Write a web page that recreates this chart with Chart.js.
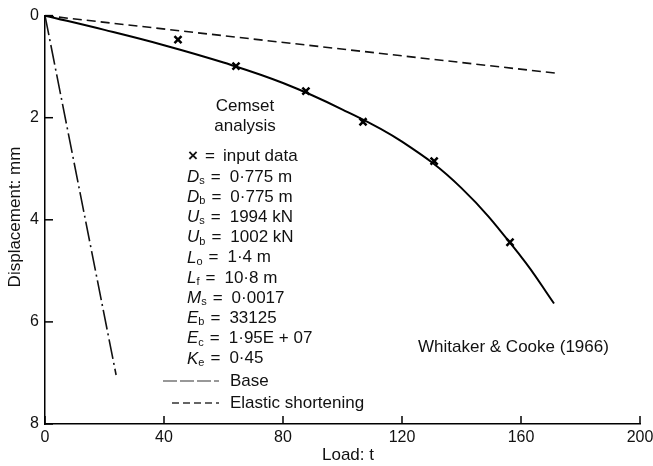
<!DOCTYPE html>
<html>
<head>
<meta charset="utf-8">
<script src="https://cdn.jsdelivr.net/npm/chart.js@4"></script>
<style>
  html, body { margin: 0; padding: 0; background: #fff; }
  canvas { display: block; }
</style>
</head>
<body>
<canvas id="chart" width="653" height="466"></canvas>
<script>
// axis ticks
const loadTicks = [0, 40, 80, 120, 160, 200];
const dispTicks = [0, 2, 4, 6, 8];

// input data (crosses)
const inputLoad = [44.7, 64.2, 87.7, 106.9, 130.8, 156.3];
const inputDisp = [0.47, 0.99, 1.48, 2.08, 2.85, 4.44];

// Cemset fitted curve
const cemsetLoad = [0, 20, 40, 60, 80, 100, 120, 140, 160, 171.1];
const cemsetDisp = [0, 0.28, 0.58, 0.92, 1.32, 1.84, 2.47, 3.38, 4.72, 5.64];

// elastic shortening line
const elasticLoad = [0, 172.1];
const elasticDisp = [0, 1.13];

// base line
const baseLoad = [0, 23.9];
const baseDisp = [0, 7.04];

// parameter block
const paramRows = [
    ['D', 's', '0\u00b7775 m'],
    ['D', 'b', '0\u00b7775 m'],
    ['U', 's', '1994 kN'],
    ['U', 'b', '1002 kN'],
    ['L', 'o', '1\u00b74 m'],
    ['L', 'f', '10\u00b78 m'],
    ['M', 's', '0\u00b70017'],
    ['E', 'b', '33125'],
    ['E', 'c', '1\u00b795E + 07'],
    ['K', 'e', '0\u00b745']
];

const FONT = '"Liberation Sans", Arial, Helvetica, sans-serif';

function pts(xs, ys) {
    return xs.map((x, i) => ({ x: x, y: ys[i] }));
}

const annotations = {
    id: 'annotations',
    afterDraw(chart) {
        const ctx = chart.ctx;
        const xs = chart.scales.x;
        const ys = chart.scales.y;
        const area = chart.chartArea;
        ctx.save();

        // inward tick marks
        ctx.strokeStyle = '#000';
        ctx.lineWidth = 1.5;
        ctx.setLineDash([]);
        dispTicks.forEach(v => {
            const y = ys.getPixelForValue(v);
            ctx.beginPath();
            ctx.moveTo(area.left, y);
            ctx.lineTo(area.left + 8, y);
            ctx.stroke();
        });
        loadTicks.forEach(v => {
            const x = xs.getPixelForValue(v);
            ctx.beginPath();
            ctx.moveTo(x, area.bottom);
            ctx.lineTo(x, area.bottom - 8);
            ctx.stroke();
        });

        ctx.fillStyle = '#111';
        ctx.textBaseline = 'middle';

        // axis titles
        ctx.font = '17px ' + FONT;
        ctx.textAlign = 'center';
        ctx.fillText('Load: t', 348, 455);
        ctx.save();
        ctx.translate(15, 217);
        ctx.rotate(-Math.PI / 2);
        ctx.fillText('Displacement: mm', 0, 0);
        ctx.restore();

        // heading
        ctx.fillText('Cemset', 245, 106);
        ctx.fillText('analysis', 245, 126);

        // input data key
        ctx.textAlign = 'left';
        ctx.font = 'bold 17px ' + FONT;
        ctx.fillText('\u00d7', 188, 156);
        ctx.font = '17px ' + FONT;
        ctx.fillText('=', 205, 156);
        ctx.fillText('input data', 223, 156);

        // parameter rows
        paramRows.forEach((r, i) => {
            const y = 177 + i * 20.2;
            let x = 187;
            ctx.font = 'italic 17px ' + FONT;
            ctx.fillText(r[0], x, y);
            x += ctx.measureText(r[0]).width;
            ctx.font = '11px ' + FONT;
            ctx.fillText(r[1], x, y + 4);
            x += ctx.measureText(r[1]).width + 6;
            ctx.font = '17px ' + FONT;
            ctx.fillText('=', x, y);
            x += ctx.measureText('=').width + 9;
            ctx.fillText(r[2], x, y);
        });

        // legend
        ctx.lineWidth = 1.5;
        ctx.strokeStyle = '#777';
        ctx.setLineDash([14, 3]);
        ctx.beginPath();
        ctx.moveTo(163, 381);
        ctx.lineTo(219, 381);
        ctx.stroke();
        ctx.strokeStyle = '#333';
        ctx.setLineDash([7, 4]);
        ctx.beginPath();
        ctx.moveTo(172, 403);
        ctx.lineTo(219, 403);
        ctx.stroke();
        ctx.setLineDash([]);
        ctx.font = '17px ' + FONT;
        ctx.fillText('Base', 230, 381);
        ctx.fillText('Elastic shortening', 230, 403);

        // reference
        ctx.fillText('Whitaker & Cooke (1966)', 418, 347);

        ctx.restore();
    }
};

new Chart(document.getElementById('chart'), {
    type: 'scatter',
    data: {
        datasets: [
            {
                label: 'Cemset analysis',
                data: pts(cemsetLoad, cemsetDisp),
                showLine: true,
                borderColor: '#000',
                borderWidth: 2,
                pointRadius: 0,
                tension: 0.4
            },
            {
                label: 'Elastic shortening',
                data: pts(elasticLoad, elasticDisp),
                showLine: true,
                borderColor: '#111',
                borderWidth: 1.6,
                borderDash: [9, 5],
                pointRadius: 0
            },
            {
                label: 'Base',
                data: pts(baseLoad, baseDisp),
                showLine: true,
                borderColor: '#111',
                borderWidth: 1.6,
                borderDash: [20, 4, 2, 4],
                pointRadius: 0
            },
            {
                label: 'input data',
                data: pts(inputLoad, inputDisp),
                showLine: false,
                pointStyle: 'crossRot',
                pointRadius: 5,
                borderColor: '#000',
                borderWidth: 2.5
            }
        ]
    },
    options: {
        responsive: false,
        animation: false,
        devicePixelRatio: 1,
        layout: { padding: { top: 13, right: 13, left: 0, bottom: 0 } },
        plugins: {
            legend: { display: false },
            tooltip: { enabled: false }
        },
        scales: {
            x: {
                type: 'linear',
                min: 0,
                max: 200,
                afterFit: (s) => { s.height = 42; s.paddingRight = 0; },
                ticks: {
                    stepSize: 40,
                    padding: 4,
                    color: '#111',
                    font: { family: FONT, size: 16 }
                },
                grid: { display: false, drawTicks: false },
                border: { display: true, color: '#000', width: 1.5 }
            },
            y: {
                type: 'linear',
                reverse: true,
                min: 0,
                max: 8,
                afterFit: (s) => { s.width = 45; },
                ticks: {
                    stepSize: 2,
                    padding: 6,
                    color: '#111',
                    font: { family: FONT, size: 16 }
                },
                grid: { display: false, drawTicks: false },
                border: { display: true, color: '#000', width: 1.5 }
            }
        }
    },
    plugins: [annotations]
});
</script>
</body>
</html>
